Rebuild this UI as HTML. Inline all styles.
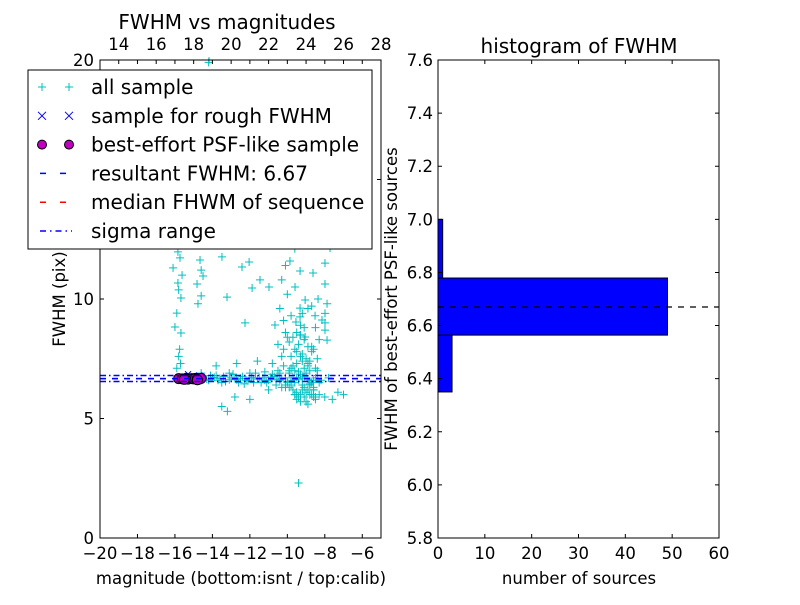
<!DOCTYPE html>
<html><head><meta charset="utf-8"><style>
html,body{margin:0;padding:0;background:#fff;}
svg text{font-family:"DejaVu Sans","Liberation Sans",sans-serif;fill:#000;}
</style></head><body>
<svg id="fig" width="800" height="600" viewBox="0 0 800 600" xmlns="http://www.w3.org/2000/svg">
<rect width="800" height="600" fill="#fff"/>
<g id="scatter"></g>
<g id="hist"></g>
</svg>
<script>
// ---- scatter data (magnitude, FWHM) ----
const allMag = [-15.84,-15.73,-16.1,-15.62,-15.84,-15.8,-15.68,-15.9,-16.0,-15.68,-15.75,-15.8,-15.7,-15.9,
 -14.66,-14.6,-14.5,-14.82,-14.6,-14.77,-13.49,-12.42,-12.04,-11.88,-13.22,-11.46,-10.98,-12.26,-10.66,
 -9.86,-9.32,-9.59,-9.05,-9.32,-9.32,-8.63,-8.15,-7.99,-7.88,-7.99,-8.36,-7.99,-7.99,-7.99,-7.88,-8.52,-7.72,-9.05,-9.54,-9.32,
 -9.9,-9.7,-9.5,-9.3,-9.1,-8.9,-8.7,-9.8,-9.6,-9.4,-9.2,-9.0,-8.8,-9.7,-9.5,-9.3,-9.1,-8.9,-9.6,-9.4,-9.2,-9.0,-8.8,-9.5,-9.3,-9.1,-8.9,-8.7,
 -10.1,-9.9,-9.7,-9.5,-9.3,-9.1,-8.9,-10.0,-9.8,-9.6,-9.4,-9.2,-9.0,-8.8,-8.6,-9.5,-9.3,-9.1,-8.9,-8.7,-8.5,-9.6,-9.2,-8.8,-8.6,
 -14.3,-14.0,-13.7,-13.4,-13.1,-12.8,-12.5,-12.2,-11.9,-11.6,-11.3,-11.0,-10.7,-10.4,-10.1,-9.8,-9.5,-9.2,-8.9,-8.6,
 -14.2,-13.9,-13.6,-13.3,-13.0,-12.7,-12.4,-12.1,-11.8,-11.5,-11.2,-10.9,-10.6,-10.3,-10.0,-9.7,-9.4,-9.1,-8.8,-8.5,
 -14.1,-13.5,-12.9,-12.3,-11.7,-11.1,-10.5,-9.9,-9.3,-8.7,-8.2,-7.8,
 -13.5,-13.2,-12.8,-12.0,-11.0,-10.3,-9.6,-9.0,-8.6,-8.3,-8.0,-7.6,-7.3,-7.0,-9.4,-9.8,-8.9,-9.2,
 -14.2,-14.18,-9.6,-13.8,-14.6,-12.7,-11.6,-10.8,
 -10.4,-10.2,-10.3,-10.5,-10.1,-10.2,-10.4,-10.0,-10.3,-10.1,-9.9,-10.2,-10.0,-9.8,-10.4,-10.1,
 -8.5,-8.4,-8.6,-8.3,-8.5,-8.7,-8.4,-8.6,-8.8,-8.5,-8.3,-8.4,
 -13.8,-13.1,-12.6,-12.0,-11.4,-10.8,-10.5,-11.8,-12.9,-13.3,-11.2,-10.6];
const allFwhm = [11.97,11.72,11.3,11.0,10.67,10.38,10.04,9.41,8.83,8.58,7.9,7.6,7.3,7.1,
 11.63,11.21,10.96,10.63,10.13,9.8,11.76,11.34,11.55,10.46,10.08,10.8,10.5,9.0,8.91,
 11.59,11.17,10.5,9.96,9.62,9.25,11.09,9.12,8.7,8.28,11.5,10.0,9.4,9.0,10.63,9.8,9.3,12.13,8.41,9.04,8.49,
 8.2,8.4,8.6,8.9,8.3,8.0,7.8,7.6,7.9,8.1,7.7,7.5,7.4,7.2,7.3,7.6,7.1,7.2,7.0,6.95,7.4,6.9,7.0,7.8,8.5,8.8,9.6,8.0,
 6.4,6.3,6.2,6.1,6.0,6.3,6.2,6.5,6.4,6.0,5.9,6.2,6.1,6.4,6.3,5.8,5.7,5.9,5.6,6.0,5.8,6.5,6.4,6.45,6.2,
 6.65,6.7,6.6,6.75,6.62,6.7,6.68,6.6,6.72,6.65,6.7,6.6,6.75,6.65,6.7,6.6,6.72,6.68,6.65,6.6,
 6.6,6.72,6.68,6.55,6.7,6.62,6.75,6.58,6.66,6.7,6.6,6.72,6.64,6.68,6.55,6.7,6.62,6.74,6.58,6.7,
 6.8,6.5,6.85,6.45,6.9,6.5,6.8,6.9,6.85,6.5,6.6,6.7,
 5.5,5.3,5.9,5.8,6.2,6.3,6.0,5.7,5.9,6.0,5.9,5.8,6.1,6.0,2.3,7.1,7.3,9.4,
 19.9,20.0,12.1,7.2,6.9,7.3,7.4,7.3,
 6.9,7.2,7.6,8.1,8.6,9.1,9.6,10.2,10.8,11.4,7.0,7.9,8.4,9.3,6.6,6.3,
 7.1,7.5,7.9,8.3,8.8,9.7,6.8,6.2,6.0,5.9,6.5,7.0,
 6.8,6.9,6.5,6.9,6.5,6.85,7.0,6.5,6.85,6.55,6.95,6.4];
const roughMag = [-15.3,-15.0,-14.7];
const roughFwhm = [6.85,6.75,6.8];
const bestMag = [-15.8,-15.6,-15.4,-15.3,-15.1,-15.0,-14.9,-14.8,-14.7,-14.6,-15.5,-14.8];
const bestFwhm = [6.67,6.66,6.68,6.65,6.67,6.66,6.68,6.67,6.65,6.68,6.64,6.62];
const resultFwhm = 6.67, medianFwhm = 6.67, sigmaLo = 6.55, sigmaHi = 6.8;
const bottomTicks = [-20,-18,-16,-14,-12,-10,-8,-6];
const topTicks = [14,16,18,20,22,24,26,28];
const leftYTicks = [0,5,10,15,20];
// ---- histogram data ----
const binEdges = [6.35,6.564,6.779,7.0];
const binCounts = [3,49,1];
const histXTicks = [0,10,20,30,40,50,60];
const histYTicks = [5.8,6.0,6.2,6.4,6.6,6.8,7.0,7.2,7.4,7.6];

const NS="http://www.w3.org/2000/svg";
function mk(parent,tag,attrs,txt){const e=document.createElementNS(NS,tag);for(const k in attrs)e.setAttribute(k,attrs[k]);if(txt!==undefined)e.textContent=txt;parent.appendChild(e);return e;}
const TF=16.5, TT=20, LF=20;

// ---------- Left plot ----------
const L={x0:100,x1:381,y0:60,y1:538};
const sx=m=>L.x0+(m-(-20))/15*(L.x1-L.x0);
const sy=f=>L.y1-(f/20)*(L.y1-L.y0);
const stx=m=>L.x0+(m-13)/15*(L.x1-L.x0);
const S=document.getElementById('scatter');
const clip=mk(S,'clipPath',{id:'lc'});mk(clip,'rect',{x:L.x0,y:L.y0-3,width:L.x1-L.x0,height:L.y1-L.y0+3});
const pts=mk(S,'g',{'clip-path':'url(#lc)'});


for(let i=0;i<allMag.length;i++){
  const x=sx(allMag[i]),y=sy(allFwhm[i]);
  const p=mk(pts,'path',{d:`M${x-4},${y}H${x+4}M${x},${y-4}V${y+4}`,stroke:'#00bfbf','stroke-width':1});
  
  
}
for(let i=0;i<roughMag.length;i++){
  const x=sx(roughMag[i]),y=sy(roughFwhm[i]);
  const p=mk(pts,'path',{d:`M${x-3},${y-3}L${x+3},${y+3}M${x-3},${y+3}L${x+3},${y-3}`,stroke:'#0000ff','stroke-width':1});
  
  
}
for(let i=0;i<bestMag.length;i++){
  const c=mk(pts,'circle',{cx:sx(bestMag[i]),cy:sy(bestFwhm[i]),r:5,fill:'#bf00bf',stroke:'#000','stroke-width':1});
  
  
}
function hline(g,v,col,dash,name){const l=mk(g,'line',{x1:L.x0,x2:L.x1,y1:sy(v),y2:sy(v),stroke:col,'stroke-width':1.5,'stroke-dasharray':dash});}
hline(pts,sigmaLo,'#0000ff','6 3 1.5 3','sigma-low-line');
hline(pts,sigmaHi,'#0000ff','6 3 1.5 3','sigma-high-line');
hline(pts,medianFwhm,'#ff0000','6 6','median-fwhm-line');
hline(pts,resultFwhm,'#0000ff','6 6','resultant-fwhm-line');

mk(S,'rect',{x:L.x0,y:L.y0,width:L.x1-L.x0,height:L.y1-L.y0,fill:'none',stroke:'#000','stroke-width':1});
bottomTicks.forEach(t=>{const x=sx(t);mk(S,'path',{d:`M${x},${L.y1}v-4M${x},${L.y0}v4`,stroke:'#000'});
  const tx=mk(S,'text',{x:x,y:559,'text-anchor':'middle','font-size':TF},'\u2212'+Math.abs(t));});
topTicks.forEach(t=>{const x=stx(t);mk(S,'path',{d:`M${x},${L.y0}v4`,stroke:'#000'});
  const tx=mk(S,'text',{x:x,y:50,'text-anchor':'middle','font-size':TF},t);});
leftYTicks.forEach(t=>{const y=sy(t);mk(S,'path',{d:`M${L.x0},${y}h4M${L.x1},${y}h-4`,stroke:'#000'});
  const tx=mk(S,'text',{x:94,y:y+6,'text-anchor':'end','font-size':TF},t);});
let t=mk(S,'text',{x:227,y:29,'text-anchor':'middle','font-size':TT},'FWHM vs magnitudes');
t=mk(S,'text',{x:241,y:584,'text-anchor':'middle','font-size':TF},'magnitude (bottom:isnt / top:calib)');
t=mk(S,'text',{x:0,y:0,'text-anchor':'middle','font-size':TF,transform:'translate(65,299) rotate(-90)'},'FWHM (pix)');

// legend
const lg=mk(S,'g',{});


mk(lg,'rect',{x:28,y:70,width:344,height:179,fill:'#fff',stroke:'#000','stroke-width':1});
const labels=['all sample','sample for rough FWHM','best-effort PSF-like sample','resultant FWHM: 6.67','median FHWM of sequence','sigma range'];
labels.forEach((lab,i)=>{
  const y=87+i*28.8;
  const e=mk(lg,'g',{});
  [42,69].forEach(x=>{
    if(i===0) mk(e,'path',{d:`M${x-4},${y}H${x+4}M${x},${y-4}V${y+4}`,stroke:'#00bfbf'});
    if(i===1) mk(e,'path',{d:`M${x-4},${y-4}L${x+4},${y+4}M${x-4},${y+4}L${x+4},${y-4}`,stroke:'#0000ff'});
    if(i===2) mk(e,'circle',{cx:x,cy:y,r:4.5,fill:'#bf00bf',stroke:'#000'});
  });
  if(i===3) mk(e,'line',{x1:40,x2:72,y1:y,y2:y,stroke:'#0000ff','stroke-width':1.5,'stroke-dasharray':'6 14'});
  if(i===4) mk(e,'line',{x1:40,x2:72,y1:y,y2:y,stroke:'#ff0000','stroke-width':1.5,'stroke-dasharray':'6 14'});
  if(i===5) mk(e,'line',{x1:40,x2:72,y1:y,y2:y,stroke:'#0000ff','stroke-width':1.5,'stroke-dasharray':'6 4 1.5 4'});
  mk(e,'text',{x:91,y:y+7,'font-size':LF},lab);
});

// ---------- Right plot ----------
const R={x0:438,x1:719,y0:60,y1:538};
const hx=c=>R.x0+c/60*(R.x1-R.x0);
const hy=v=>R.y1-(v-5.8)/1.8*(R.y1-R.y0);
const H=document.getElementById('hist');
for(let i=0;i<binCounts.length;i++){
  const r=mk(H,'rect',{x:hx(0),y:hy(binEdges[i+1]),width:hx(binCounts[i])-hx(0),height:hy(binEdges[i])-hy(binEdges[i+1]),fill:'#0000ff',stroke:'#000','stroke-width':1});
  
  
}
t=mk(H,'line',{x1:R.x0,x2:R.x1,y1:hy(resultFwhm),y2:hy(resultFwhm),stroke:'#000','stroke-width':1.2,'stroke-dasharray':'6 6'});

mk(H,'rect',{x:R.x0,y:R.y0,width:R.x1-R.x0,height:R.y1-R.y0,fill:'none',stroke:'#000'});
histXTicks.forEach(v=>{const x=hx(v);mk(H,'path',{d:`M${x},${R.y1}v-4M${x},${R.y0}v4`,stroke:'#000'});
  const tx=mk(H,'text',{x:x,y:559,'text-anchor':'middle','font-size':TF},v);});
histYTicks.forEach(v=>{const y=hy(v);mk(H,'path',{d:`M${R.x0},${y}h4M${R.x1},${y}h-4`,stroke:'#000'});
  const tx=mk(H,'text',{x:433,y:y+6,'text-anchor':'end','font-size':TF},v.toFixed(1));});
t=mk(H,'text',{x:579,y:53,'text-anchor':'middle','font-size':TT},'histogram of FWHM');
t=mk(H,'text',{x:579,y:584,'text-anchor':'middle','font-size':TF},'number of sources');
t=mk(H,'text',{x:0,y:0,'text-anchor':'middle','font-size':TF,transform:'translate(397,299) rotate(-90)'},'FWHM of best-effort PSF-like sources');
</script>
</body></html>
